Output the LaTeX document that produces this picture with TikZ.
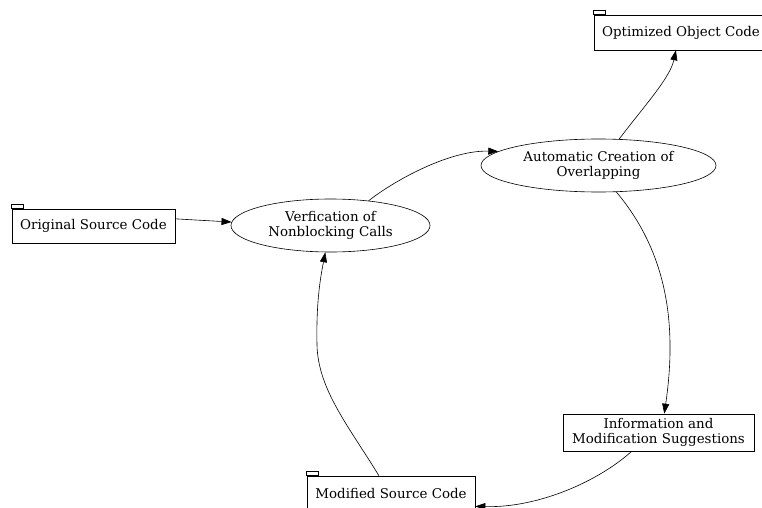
\documentclass[tikz,border=0pt]{standalone}
\usepackage{fontspec}
\setmainfont{DejaVu Serif}
\usetikzlibrary{shapes.geometric,arrows.meta,calc}
\begin{document}
\begin{tikzpicture}[x=1pt,y=-1pt,
  lbl/.style={font=\fontsize{13.4}{15}\selectfont, align=center},
  box/.style={draw, rectangle, line width=0.6pt, inner sep=0pt, lbl},
  ell/.style={draw, ellipse, line width=0.6pt, inner sep=0pt, lbl},
  arr/.style={line width=0.6pt, -{Triangle[length=10pt,width=7pt]}},
  tab/.style={draw, line width=0.5pt}]
\useasboundingbox (0,0) rectangle (762,508);
\clip (0,0) rectangle (762,508);
\fill[white] (0,0) rectangle (762,508);

\node[box, minimum width=163pt, minimum height=34pt] (orig) at (93.5,226) {Original Source Code};
\node[box, minimum width=174pt, minimum height=35pt] (opt) at (681,32.5) {Optimized Object Code};
\node[box, minimum width=168pt, minimum height=34pt] (mod) at (391,493) {Modified Source Code};
\node[box, minimum width=191pt, minimum height=37pt] (info) at (658.5,432.5) {Information and\\Modification Suggestions};
\node[ell, minimum width=199pt, minimum height=53pt] (verf) at (330.5,225.5) {Verfication of\\Nonblocking Calls};
\node[ell, minimum width=235pt, minimum height=53pt] (auto) at (598.5,165.5) {Automatic Creation of\\Overlapping};

\draw[tab] (orig.north west) rectangle ++(12,-4);
\draw[tab] (opt.north west) rectangle ++(12,-4);
\draw[tab] (mod.north west) rectangle ++(12,-4);

\draw[arr] (orig.5.6) -- (verf.178);
\draw[arr] (verf.33.5) .. controls (395,180) and (450,150) .. (auto.172.6);
\draw[arr] (auto.52) .. controls (645,105) and (670,78) .. (opt.254);
\draw[arr] (auto.304.5) .. controls (665,250) and (678,320) .. (info.73);
\draw[arr] (info.215) .. controls (600,480) and (540,508) .. (mod.351);
\draw[arr] (mod.125) .. controls (350,428) and (318,390) .. (317,345)
  .. controls (316,300) and (321,275) .. (verf.259);
\end{tikzpicture}
\end{document}
